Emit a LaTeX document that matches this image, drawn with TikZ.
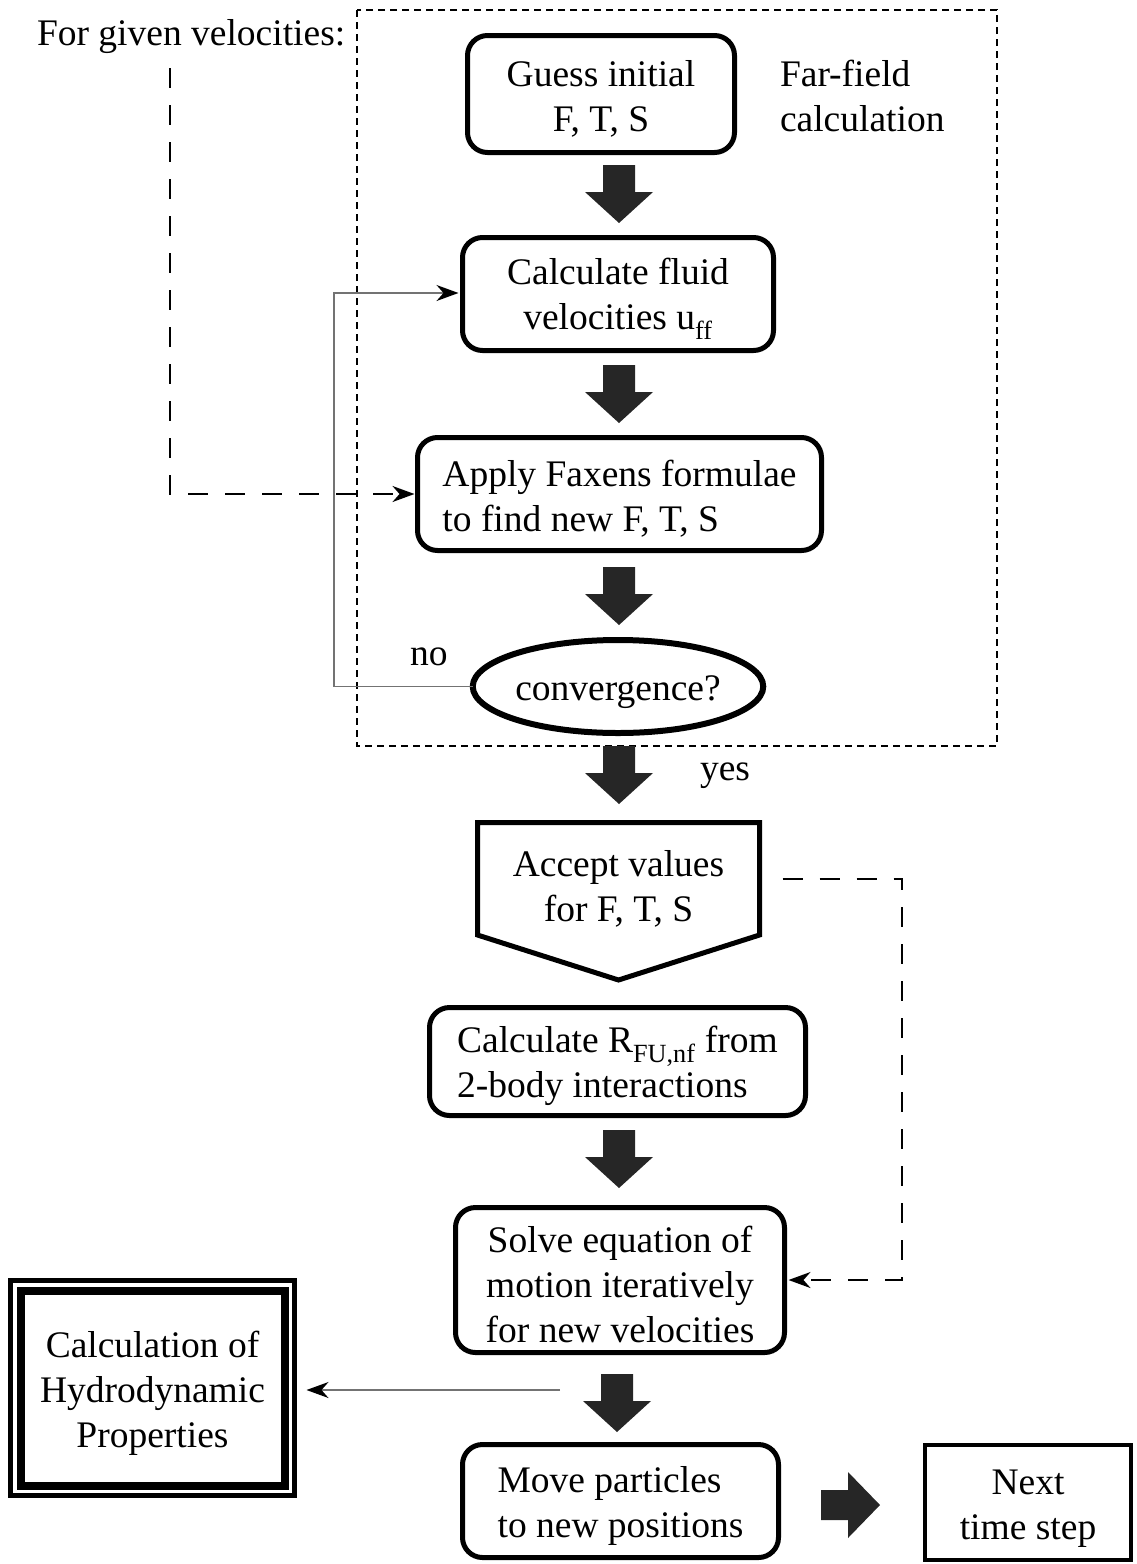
\documentclass[tikz,border=0pt]{standalone}
\usepackage{fontspec}
\setmainfont{Liberation Serif}
\usetikzlibrary{arrows.meta,shapes.geometric}

% taller first line, so that box texts sit a little low
\newcommand\lowstrut{\rule{0pt}{36pt}}

\begin{document}
\begin{tikzpicture}[x=1pt,y=-1pt,
  every node/.style={font=\fontsize{37.5}{45}\selectfont, inner sep=0pt, outer sep=0pt},
  rbox/.style={draw, line width=5pt, rounded corners=20pt},
  flowtip/.style={-{Stealth[length=22pt,width=16pt,inset=7pt,color=black]}},
  thinline/.style={draw=black!55, line width=1.3pt, flowtip},
  longdash/.style={line width=2pt, dash pattern=on 20pt off 17pt, flowtip},
  bdown/.pic={\fill[black!85] (-16,0) -- (16,0) -- (16,27) -- (34,27) -- (0,58)
      -- (-34,27) -- (-16,27) -- cycle;},
  bright/.pic={\fill[black!85] (0,-15) -- (27,-15) -- (27,-33) -- (59,0) -- (27,33)
      -- (27,15) -- (0,15) -- cycle;}
]
\useasboundingbox (0,0) rectangle (1137,1564);

% far-field iteration frame
\draw[line width=2.2pt, dash pattern=on 7pt off 5pt] (357,10) rectangle (997,746);

% labels
\node[anchor=base west] (given) at (37,45) {For given velocities:};
\node[anchor=west, align=left] (far) at (780,96) {Far-field\\calculation};
\node[anchor=base west] (no) at (410,665) {no};
\node[anchor=base west] (yes) at (700,780) {yes};

% process boxes
\node[rbox, align=center, minimum width=267pt, minimum height=117pt] (guess) at (601,94)
  {\lowstrut Guess initial\\F, T, S};
\node[rbox, align=center, minimum width=311pt, minimum height=113pt] (fluid) at (618,294)
  {\lowstrut Calculate fluid\\velocities u\textsubscript{ff}};
\node[rbox, align=left, minimum width=404pt, minimum height=113pt] (faxen) at (619.5,494)
  {\lowstrut Apply Faxens formulae\\to find new F, T, S};
\node[draw, ellipse, line width=6pt, minimum width=284pt, minimum height=93pt] (conv)
  at (618,686.5) {\lowstrut convergence?};

% accept step: pentagon pointing down, text set a little low in it
\node[minimum width=282pt, minimum height=112.5pt] (accept) at (618.5,878.75) {};
\draw[line width=5pt, line join=miter] (accept.north west) -- (accept.north east)
  -- (accept.south east) -- (618.5,980) -- (accept.south west) -- cycle;
\node[align=center] (accepttext) at (618.5,889) {Accept values\\for F, T, S};

\node[rbox, align=left, minimum width=376pt, minimum height=108pt] (rfu) at (617.5,1061.5)
  {\lowstrut Calculate R\textsubscript{FU,nf} from\\2-body interactions};
\node[rbox, align=center, minimum width=329pt, minimum height=145pt] (solve) at (620,1280)
  {\lowstrut Solve equation of\\motion iteratively\\for new velocities};
\node[rbox, align=left, minimum width=316pt, minimum height=113pt] (move) at (620.5,1501)
  {\lowstrut Move particles\\to new positions};
\node[draw, line width=4pt, align=center, minimum width=206pt, minimum height=115pt] (next)
  at (1028,1502.5) {\lowstrut Next\\time step};

% hydrodynamic properties: double frame
\node[draw, line width=5pt, align=center, minimum width=284pt, minimum height=215pt] (hydro)
  at (152.5,1388) {\lowstrut Calculation of\\Hydrodynamic\\Properties};
\draw[line width=8pt] ([shift={(10,10)}]hydro.north west) rectangle ([shift={(-10,-10)}]hydro.south east);

% block arrows of the main flow
\pic at (619,165) {bdown};
\pic at (619,365) {bdown};
\pic at (619,567) {bdown};
\pic at (619,746) {bdown};
\pic at (619,1130) {bdown};
\pic at (617,1374) {bdown};
\pic at (821,1505) {bright};

% connectors
\coordinate (gstart) at (170,68);
\draw[longdash] (gstart) -- (170,494) -- ([xshift=-3pt]faxen.west);
\draw[thinline] (conv.west) -- (334,686.5) -- (334,293) -- ([xshift=-4pt]fluid.west |- 0,293);
\draw[longdash, shorten <=23pt] (accept.east) -- (902,878.75) -- (902,1280) -- ([xshift=4pt]solve.east);
\coordinate (hstart) at (560,1390);
\draw[thinline] (hstart) -- ([xshift=12pt]hydro.east |- hstart);
\end{tikzpicture}
\end{document}
